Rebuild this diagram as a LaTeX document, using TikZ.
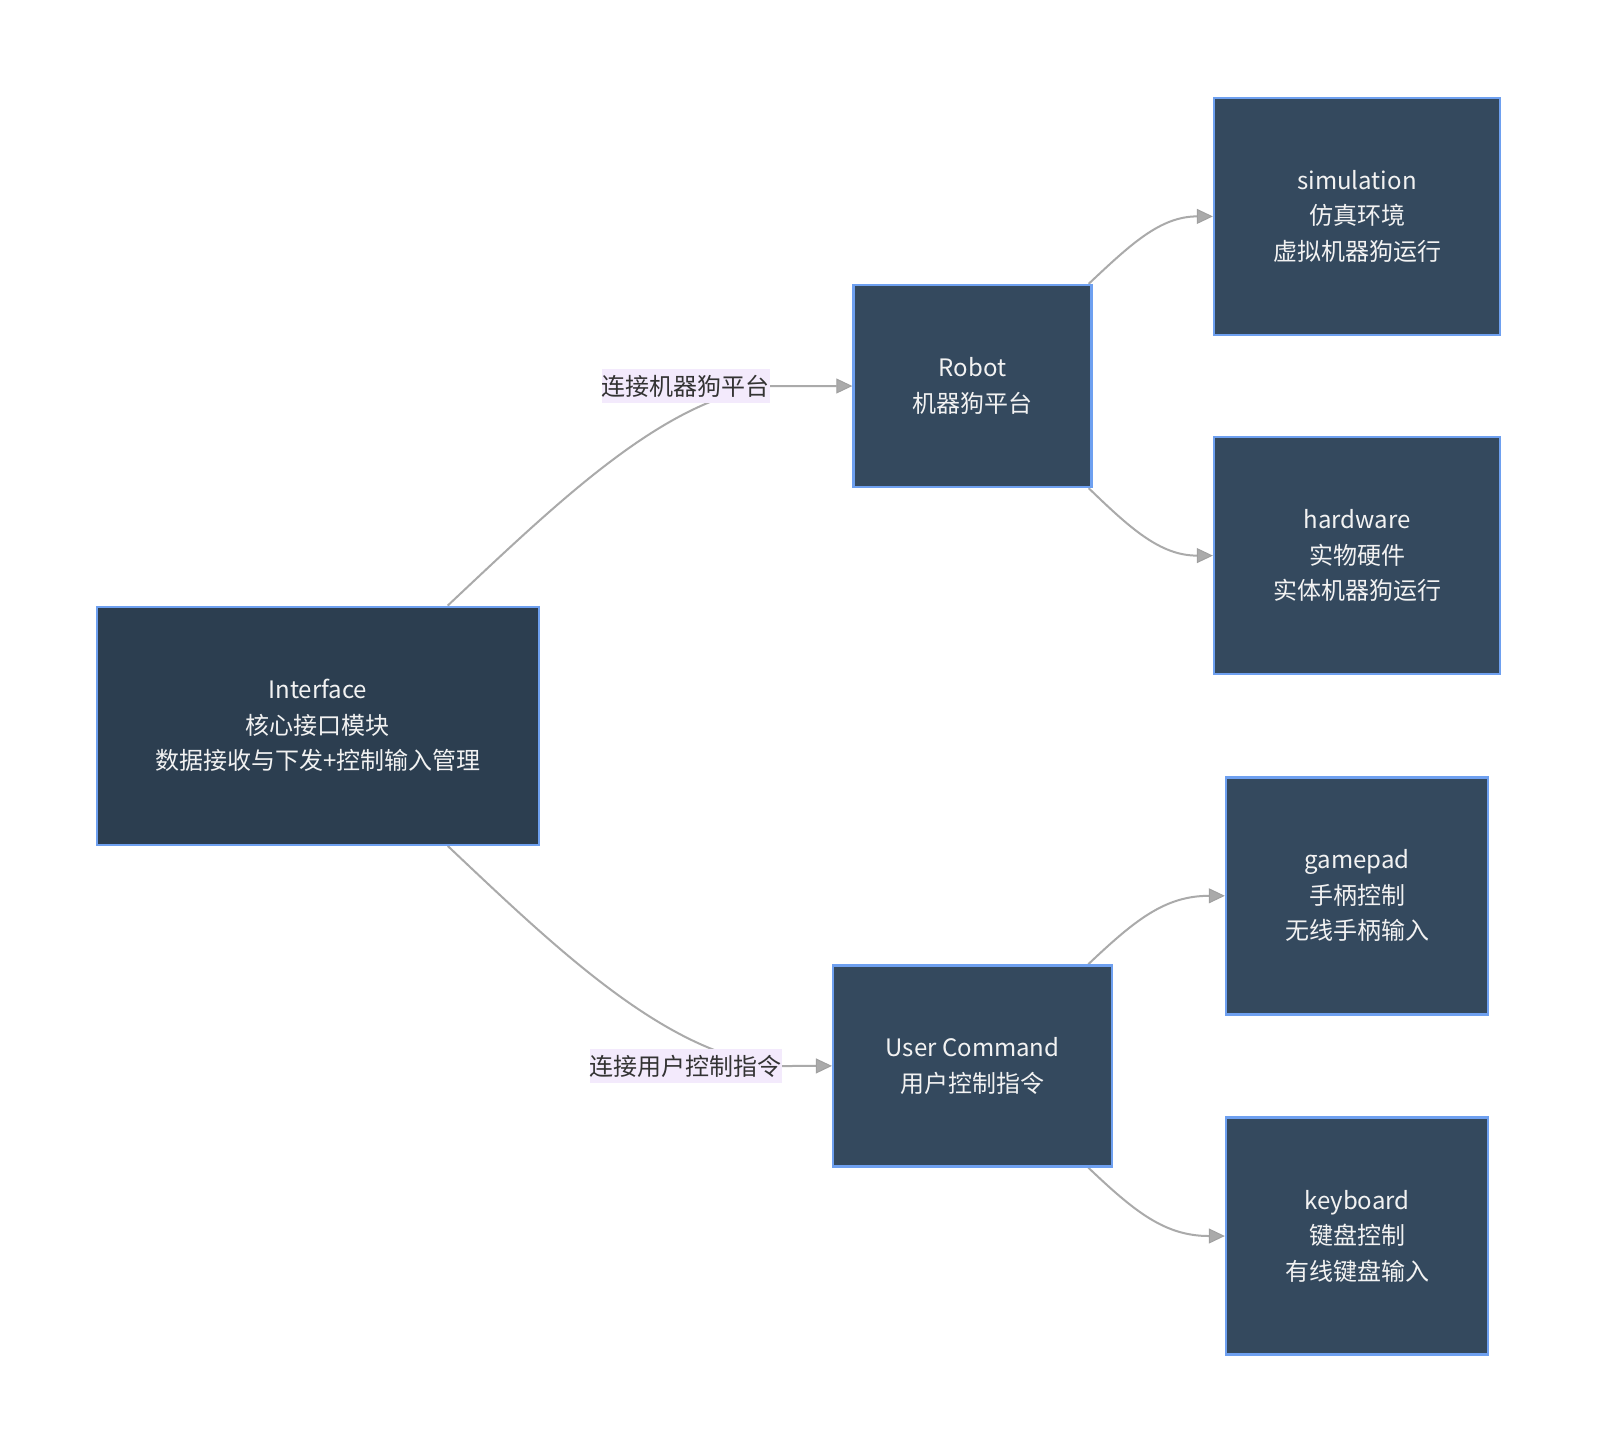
\documentclass[tikz,border=0pt]{standalone}
\usepackage{fontspec}
\setmainfont{Noto Sans CJK SC}
\usetikzlibrary{arrows.meta}
\pgfdeclarelayer{bgzero}
\pgfdeclarelayer{edges}
\pgfsetlayers{bgzero,edges,main}
\definecolor{boxfill}{HTML}{34495E}
\definecolor{ifacefill}{HTML}{2C3E50}
\definecolor{boxline}{HTML}{6EA0F0}
\definecolor{edgecol}{HTML}{AAAAAA}
\definecolor{tipcol}{HTML}{A0A0A0}
\definecolor{lblbg}{HTML}{F3EAFC}
\definecolor{lbltext}{HTML}{333333}
\definecolor{boxtext}{HTML}{F2F2F2}
\tikzset{
  box/.style={draw=boxline, line width=2.4pt, fill=boxfill, text=boxtext,
    align=center, inner sep=0pt, font=\fontsize{24}{35.5}\selectfont},
  lbl/.style={fill=lblbg, text=lbltext, inner xsep=0pt, inner ysep=0pt,
    minimum height=34pt, font=\fontsize{24}{30}\selectfont},
  conn/.style={draw=edgecol, line width=2pt,
    -{Triangle[length=16pt,width=15pt,fill=edgecol,color=tipcol,line width=1pt]}}
}
\begin{document}
\begin{tikzpicture}[x=1pt,y=-1pt]
\begin{pgfonlayer}{bgzero}
\fill[white] (0,0) rectangle (1597,1452);
\end{pgfonlayer}
\useasboundingbox (0,0) rectangle (1597,1452);
% boxes
\node[box, fill=ifacefill, minimum width=442pt, minimum height=238pt] (iface) at (317.75,725.75)
  {Interface\\核心接口模块\\数据接收与下发+控制输入管理};
\node[box, minimum width=238pt, minimum height=202pt] (robot) at (972.5,386)
  {Robot\\机器狗平台};
\node[box, minimum width=279pt, minimum height=201pt] (ucmd) at (972.6,1065.9)
  {User Command\\用户控制指令};
\node[box, minimum width=286pt, minimum height=237pt] (sim) at (1357,216.4)
  {simulation\\仿真环境\\虚拟机器狗运行};
\node[box, minimum width=286pt, minimum height=237pt] (hw) at (1357,555.6)
  {hardware\\实物硬件\\实体机器狗运行};
\node[box, minimum width=262pt, minimum height=237pt] (gp) at (1357,895.8)
  {gamepad\\手柄控制\\无线手柄输入};
\node[box, minimum width=262pt, minimum height=237pt] (kb) at (1357,1236)
  {keyboard\\键盘控制\\有线键盘输入};
% edge labels
\node[lbl] (l1) at (685.5,386) {连接机器狗平台};
\node[lbl] (l2) at (685.5,1066) {连接用户控制指令};
% connectors
\begin{pgfonlayer}{edges}
\draw[conn] ([xshift=130pt]iface.north) .. controls (560,500) and (665,398) .. (l1.east) -- (robot.west);
\draw[conn] ([xshift=130pt]iface.south) .. controls (560,952) and (670,1058) .. (l2.east) -- (ucmd.west);
\draw[conn] ([xshift=-4pt]robot.north east) .. controls (1130,245) and (1160,216.4) .. (sim.west);
\draw[conn] ([xshift=-4pt]robot.south east) .. controls (1130,528) and (1160,555.6) .. (hw.west);
\draw[conn] ([xshift=-25pt]ucmd.north east) .. controls (1135,920) and (1165,895.8) .. (gp.west);
\draw[conn] ([xshift=-25pt]ucmd.south east) .. controls (1135,1212) and (1165,1236) .. (kb.west);
\end{pgfonlayer}
\end{tikzpicture}
\end{document}
